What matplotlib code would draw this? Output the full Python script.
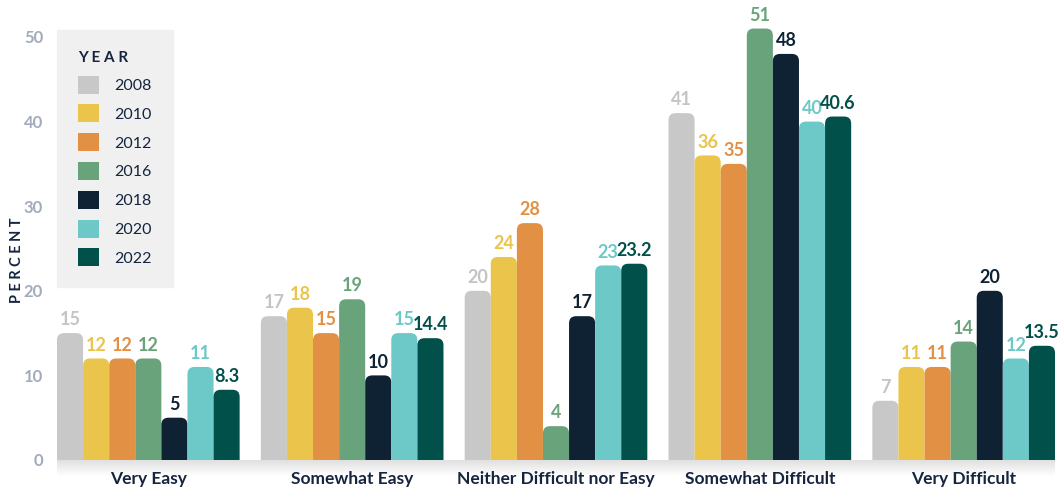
import numpy as np
import matplotlib
matplotlib.use("Agg")
import matplotlib.pyplot as plt
from matplotlib.patches import FancyBboxPatch

plt.rcParams['font.family'] = ['Lato', 'DejaVu Sans']

categories = ["Very Easy", "Somewhat Easy", "Neither Difficult nor Easy",
              "Somewhat Difficult", "Very Difficult"]
years = ["2008", "2010", "2012", "2016", "2018", "2020", "2022"]
values = {
    "2008": [15, 17, 20, 41, 7],
    "2010": [12, 18, 24, 36, 11],
    "2012": [12, 15, 28, 35, 11],
    "2016": [12, 19, 4, 51, 14],
    "2018": [5, 10, 17, 48, 20],
    "2020": [11, 15, 23, 40, 12],
    "2022": [8.3, 14.4, 23.2, 40.6, 13.5],
}
labels = {
    "2008": ["15", "17", "20", "41", "7"],
    "2010": ["12", "18", "24", "36", "11"],
    "2012": ["12", "15", "28", "35", "11"],
    "2016": ["12", "19", "4", "51", "14"],
    "2018": ["5", "10", "17", "48", "20"],
    "2020": ["11", "15", "23", "40", "12"],
    "2022": ["8.3", "14.4", "23.2", "40.6", "13.5"],
}
colors = ["#c8c8c8", "#eac44b", "#e29044", "#69a37b", "#0f2233", "#6cc9c7", "#02504a"]
label_colors = ["#c4c4c4", "#eac44b", "#e29044", "#69a37b", "#0f2233", "#6cc9c7", "#02504a"]
navy = "#15243f"

W, H = 1062, 491
ppu = (460 - 37) / 50.0   # pixels per percent
ymax = 54
fig = plt.figure(figsize=(W / 100, H / 100), dpi=100)
ax = fig.add_axes([57 / W, (H - 460) / H, (1055 - 57) / W, ymax * ppu / H])

w = 0.128
x = np.arange(len(categories))
ax.set_xlim(-3.5 * w, len(categories) - 1 + 3.5 * w)
ax.set_ylim(0, ymax)

# data units per pixel, for round corners
px_x = (ax.get_xlim()[1] - ax.get_xlim()[0]) / (1055 - 57)
px_y = 1 / ppu
r = 7  # corner radius px

for j, yr in enumerate(years):
    pos = x + (j - 3) * w
    bars = ax.bar(pos, values[yr], width=w, color=colors[j], label=yr)
    for b, lab in zip(bars, labels[yr]):
        b.set_visible(False)
        bx, bw, bh = b.get_x(), b.get_width(), b.get_height()
        p = FancyBboxPatch((bx, -r * px_y), bw, bh + r * px_y,
                           boxstyle="round,pad=0,rounding_size=%f" % (r * px_x),
                           mutation_aspect=px_y / px_x,
                           fc=colors[j], ec="none", clip_on=True)
        ax.add_patch(p)
        ax.annotate(lab, (bx + bw / 2, bh), xytext=(0, 3.5), textcoords="offset points",
                    ha="center", va="bottom", fontsize=13, fontweight="bold",
                    color=label_colors[j], annotation_clip=False)

# soft grey band under the baseline
grad = np.linspace(0.88, 1.0, 20).reshape(-1, 1)
ax.imshow(np.dstack([grad, grad, grad]), extent=(0, 1, -0.035, 0), transform=ax.transAxes,
          aspect="auto", clip_on=False, zorder=0)
ax.set_xlim(-3.5 * w, len(categories) - 1 + 3.5 * w)
ax.set_ylim(0, ymax)

ax.set_xticks(x)
ax.set_xticklabels(categories, fontsize=12.5, fontweight="bold", color=navy)
ax.tick_params(axis="x", length=0, pad=8)
ax.set_yticks([0, 10, 20, 30, 40, 50])
ax.tick_params(axis="y", length=0, pad=10, labelsize=12, labelcolor="#a3abbb")
for t in ax.get_yticklabels():
    t.set_fontweight("bold")
for s in ax.spines.values():
    s.set_visible(False)

fig.text(17 / W, 1 - 260 / H, "P E R C E N T", rotation=90, ha="center", va="center",
         fontsize=10.5, fontweight="bold", color=navy)

# legend box
leg = ax.legend(handles=[plt.Rectangle((0, 0), 1, 1, fc=c) for c in colors], labels=years,
                loc="upper left", bbox_to_anchor=(0, (460 - 30) / (ymax * ppu)),
                frameon=True, fancybox=False,
                facecolor="#f0f0f0", edgecolor="#f0f0f0", framealpha=1,
                title="Y E A R", title_fontproperties={"weight": "bold", "size": 11},
                fontsize=11.5, labelcolor=navy, handlelength=1.35, handleheight=1.35,
                handletextpad=0.95, labelspacing=0.68, borderpad=1.3, borderaxespad=0)
leg.get_title().set_color(navy)
leg._legend_box.align = "left"

fig.savefig("out.png", dpi=100)
